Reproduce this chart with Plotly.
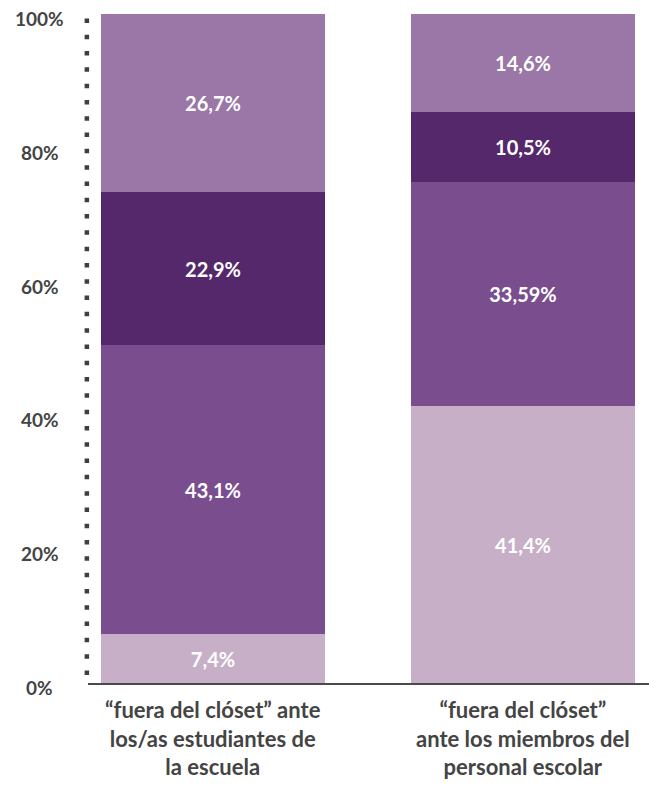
import plotly.graph_objects as go

categories = ["“fuera del clóset” ante<br>los/as estudiantes de<br>la escuela",
              "“fuera del clóset”<br>ante los miembros del<br>personal escolar"]
cat_pos = [0, 1]

series_names = ["Ninguno/a", "Algunos/as", "La mayoría", "Todos/as"]
series_values = [
    [7.4, 41.4],
    [43.1, 33.59],
    [22.9, 10.5],
    [26.7, 14.6],
]
series_colors = ["#c8afc8", "#7a4e8e", "#55286b", "#9a77a6"]

y_ticks = [0, 20, 40, 60, 80, 100]
y_tick_labels = ["0%", "20%", "40%", "60%", "80%", "100%"]

FONT = "Lato"
TXT = "#444444"

fig = go.Figure()
for name, vals, col in zip(series_names, series_values, series_colors):
    labels = [(str(v).replace(".", ",") + "%") for v in vals]
    fig.add_trace(go.Bar(
        x=cat_pos, y=vals, name=name, width=0.72,
        marker=dict(color=col, line=dict(width=0)),
        text=labels, textposition="inside", insidetextanchor="middle",
        textangle=0, constraintext="none",
        textfont=dict(family=FONT, size=20, color="white", weight="bold"),
        hoverinfo="skip",
    ))

annotations = []
for t, lab in zip(y_ticks, y_tick_labels):
    annotations.append(dict(
        x=-0.0844, xref="paper", y=t, yref="y", text=lab, showarrow=False,
        xanchor="center", yanchor="middle", yshift=-4,
        font=dict(family=FONT, size=19, color=TXT, weight="bold"),
    ))
for p, lab in zip(cat_pos, categories):
    annotations.append(dict(
        x=p, xref="x", y=0, yref="paper", text=lab, showarrow=False,
        xanchor="center", yanchor="top", yshift=-11, align="center",
        font=dict(family=FONT, size=22, color=TXT, weight="bold"),
    ))

fig.update_layout(
    width=649, height=779,
    margin=dict(l=80, r=0, t=6, b=104),
    barmode="stack",
    showlegend=False,
    plot_bgcolor="white", paper_bgcolor="white",
    bargap=0,
    annotations=annotations,
    shapes=[dict(type="line", xref="paper", yref="paper", x0=-0.002, x1=-0.002,
                 y0=0.012, y1=1.0, line=dict(color="#3f3f3f", width=4.5, dash="4.5px,11.8px"))],
    xaxis=dict(range=[-0.403, 1.432], showgrid=False, zeroline=False,
               showticklabels=False, ticks="", showline=True,
               linecolor="#4a4a4a", linewidth=2, fixedrange=True),
    yaxis=dict(range=[0, 100.1], showgrid=False, zeroline=False,
               showticklabels=False, ticks="", showline=False, fixedrange=True),
)

fig.write_html("out.html")
